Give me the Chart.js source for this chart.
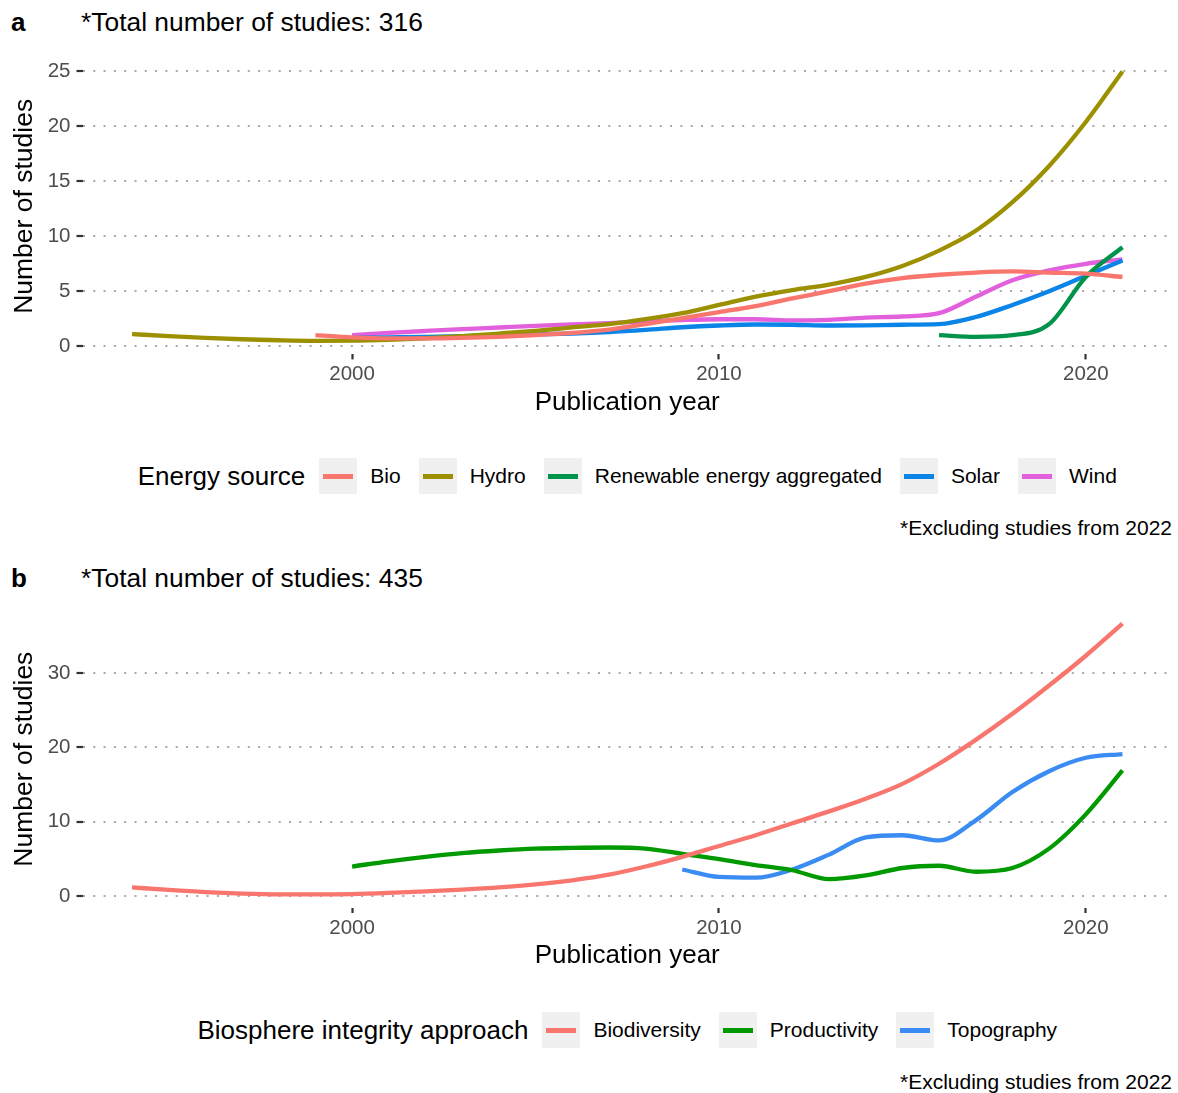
<!DOCTYPE html>
<html>
<head>
<meta charset="utf-8">
<script src="https://cdn.jsdelivr.net/npm/chart.js@4"></script>
<style>
html,body{margin:0;padding:0;background:#fff;width:1178px;height:1093px;overflow:hidden;font-family:"Liberation Sans",Arial,sans-serif;color:#000;}
.abs{position:absolute;white-space:nowrap;}
.tag{font-weight:bold;font-size:26px;left:11px;line-height:30px;}
.sub{font-size:26.4px;left:81px;line-height:30px;}
.cap{font-size:21px;right:6px;line-height:24px;}
.box{position:absolute;left:0;width:1178px;height:390px;}
.legend{position:absolute;left:82.5px;width:1089.5px;display:flex;justify-content:center;align-items:center;height:36px;white-space:nowrap;}
.legend .ttl{font-size:26px;margin-right:14px;}
.legend .key{width:38px;height:36px;background:#f0f0f0;display:flex;align-items:center;justify-content:center;margin-right:13px;flex:none;}
.legend .key span{display:block;width:30px;height:5px;}
.legend .lab{font-size:21px;margin-right:18px;}
.legend .lab:last-child{margin-right:0;}
</style>
</head>
<body>
<div class="abs tag" style="top:7px;">a</div>
<div class="abs sub" style="top:7px;">*Total number of studies: 316</div>
<div class="box" style="top:40px;"><canvas id="chartA"></canvas></div>
<div class="legend" id="legendA" style="top:458px;"></div>
<div class="abs cap" style="top:516px;">*Excluding studies from 2022</div>

<div class="abs tag" style="top:563px;">b</div>
<div class="abs sub" style="top:563px;">*Total number of studies: 435</div>
<div class="box" style="top:592px;"><canvas id="chartB"></canvas></div>
<div class="legend" id="legendB" style="top:1012px;"></div>
<div class="abs cap" style="top:1070px;">*Excluding studies from 2022</div>

<script>
// ---------- data ----------
const years = [1994,1995,1996,1997,1998,1999,2000,2001,2002,2003,2004,2005,2006,2007,2008,2009,2010,2011,2012,2013,2014,2015,2016,2017,2018,2019,2020,2021];
const yearTicks = [2000, 2010, 2020];

// Panel a: energy source
const energyTicks = [0, 5, 10, 15, 20, 25];
const energyNames = ['Bio', 'Hydro', 'Renewable energy aggregated', 'Solar', 'Wind'];
const bioEnergy = [null,null,null,null,null,1.0,0.8,0.7,0.7,0.75,0.85,1.0,1.2,1.5,2.0,2.55,3.1,3.65,4.35,5.0,5.7,6.2,6.5,6.7,6.8,6.7,6.6,6.3];
const hydro = [1.1,0.92,0.76,0.63,0.54,0.49,0.5,0.58,0.72,0.92,1.15,1.4,1.7,2.0,2.45,3.0,3.75,4.5,5.1,5.6,6.3,7.3,8.7,10.5,13.1,16.4,20.4,25.0];
const renewable = [null,null,null,null,null,null,null,null,null,null,null,null,null,null,null,null,null,null,null,null,null,null,1.0,0.85,1.0,2.0,6.3,9.0];
const solar = [null,null,null,null,null,null,0.75,0.8,0.85,0.92,1.0,1.08,1.15,1.28,1.48,1.72,1.88,1.97,1.95,1.88,1.9,1.95,2.0,2.65,3.75,5.0,6.4,7.8];
const wind = [null,null,null,null,null,null,1.0,1.2,1.38,1.55,1.7,1.85,1.98,2.1,2.25,2.38,2.45,2.45,2.35,2.4,2.6,2.7,3.0,4.5,6.0,6.9,7.5,7.9];
const energyColors = ['#F8766D', '#9C9000', '#00934A', '#0A84E6', '#E260DC'];

// Panel b: biosphere integrity approach
const bioTicks = [0, 10, 20, 30];
const approachNames = ['Biodiversity', 'Productivity', 'Topography'];
const biodiversity = [1.2,0.85,0.55,0.35,0.25,0.25,0.3,0.45,0.65,0.9,1.2,1.6,2.15,2.9,4.0,5.3,6.75,8.2,9.8,11.4,13.1,15.1,17.8,21.0,24.5,28.3,32.3,36.6];
const productivity = [null,null,null,null,null,null,4.0,4.7,5.3,5.8,6.15,6.4,6.5,6.55,6.4,5.7,5.0,4.2,3.5,2.3,2.8,3.8,4.1,3.3,3.8,6.4,11.0,16.9];
const topography = [null,null,null,null,null,null,null,null,null,null,null,null,null,null,null,3.6,2.6,2.5,3.6,5.6,7.9,8.2,7.5,10.2,14.0,16.8,18.6,19.1];
const approachColors = ['#F8766D', '#009A00', '#3A8CF2'];

// ---------- helpers ----------
const FONT = "'Liberation Sans', Arial, sans-serif";
Chart.defaults.font.family = FONT;

function series(vals) {
  const out = [];
  years.forEach((y, i) => { if (vals[i] !== null) out.push({x: y, y: vals[i]}); });
  return out;
}
function makeDatasets(names, arrays, colors) {
  return names.map((n, i) => ({
    label: n,
    data: series(arrays[i]),
    borderColor: colors[i],
    backgroundColor: colors[i],
    borderWidth: 4.3,
    pointRadius: 0,
    pointHoverRadius: 0,
    fill: false,
    cubicInterpolationMode: 'monotone'
  }));
}

const htmlLegend = {
  id: 'htmlLegend',
  afterUpdate(chart, args, opts) {
    const box = document.getElementById(opts.containerID);
    box.innerHTML = '';
    const t = document.createElement('span');
    t.className = 'ttl';
    t.textContent = opts.title;
    box.appendChild(t);
    chart.data.datasets.forEach(ds => {
      const k = document.createElement('span');
      k.className = 'key';
      const l = document.createElement('span');
      l.style.background = ds.borderColor;
      k.appendChild(l);
      box.appendChild(k);
      const lab = document.createElement('span');
      lab.className = 'lab';
      lab.textContent = ds.label;
      box.appendChild(lab);
    });
  }
};

function makeChart(id, legendId, legendTitle, datasets, yMin, yMax, yTicks, xScaleHeight, xTitlePadBottom) {
  return new Chart(document.getElementById(id), {
    type: 'line',
    data: { datasets },
    plugins: [htmlLegend],
    options: {
      responsive: true,
      maintainAspectRatio: false,
      animation: false,
      layout: { padding: { top: 13, right: 6, left: 0, bottom: 0 } },
      plugins: {
        legend: { display: false },
        tooltip: { enabled: false },
        htmlLegend: { containerID: legendId, title: legendTitle }
      },
      scales: {
        x: {
          type: 'linear',
          min: 1992.65,
          max: 2022.35,
          afterBuildTicks: s => { s.ticks = yearTicks.map(v => ({ value: v })); },
          afterFit: s => { s.height = xScaleHeight; },
          border: { display: false },
          grid: {
            drawOnChartArea: false,
            drawTicks: true,
            tickLength: 5,
            tickColor: '#333333',
            tickWidth: 2.2
          },
          ticks: {
            color: '#4d4d4d',
            font: { size: 20.5 },
            padding: 3,
            maxRotation: 0,
            callback: v => String(v)
          },
          title: {
            display: true,
            text: 'Publication year',
            color: '#000',
            font: { size: 26 },
            padding: { top: 0, bottom: xTitlePadBottom }
          }
        },
        y: {
          type: 'linear',
          min: yMin,
          max: yMax,
          afterBuildTicks: s => { s.ticks = yTicks.map(v => ({ value: v })); },
          afterFit: s => { s.width = 82.5; },
          border: { display: false, dash: [2, 8.3] },
          grid: {
            drawOnChartArea: true,
            drawTicks: true,
            color: '#a8a8a8',
            lineWidth: 2,
            borderDash: [2, 8.3],
            tickLength: 6,
            tickColor: '#333333',
            tickWidth: 2.2,
            tickBorderDash: []
          },
          ticks: {
            color: '#4d4d4d',
            font: { size: 20.5 },
            padding: 6,
            callback: v => String(v)
          },
          title: {
            display: true,
            text: 'Number of studies',
            color: '#000',
            font: { size: 26.5 },
            padding: { top: 9, bottom: 0 }
          }
        }
      }
    }
  });
}

makeChart('chartA', 'legendA', 'Energy source',
  makeDatasets(energyNames, [bioEnergy, hydro, renewable, solar, wind], energyColors),
  -0.75, 26.2, energyTicks, 75.6, 11.4);

makeChart('chartB', 'legendB', 'Biosphere integrity approach',
  makeDatasets(approachNames, [biodiversity, productivity, topography], approachColors),
  -1.57, 38.4, bioTicks, 74, 10.4);
</script>
</body>
</html>
